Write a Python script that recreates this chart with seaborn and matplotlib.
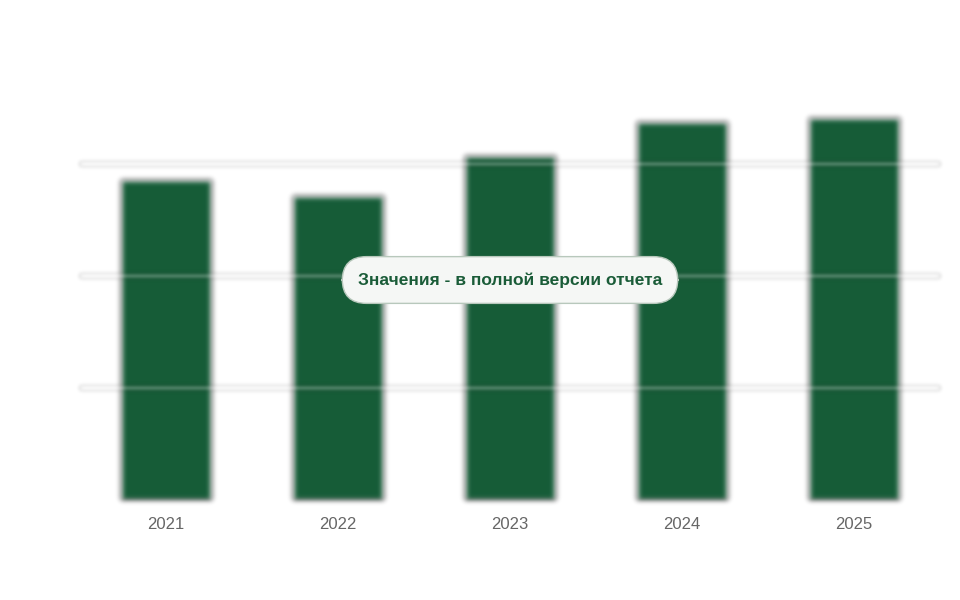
import numpy as np
import pandas as pd
import matplotlib
matplotlib.use("Agg")
import matplotlib.pyplot as plt
import seaborn as sns

years = ["2021", "2022", "2023", "2024", "2025"]
values = [320, 304, 344, 378, 382]
grid_levels = [112, 224, 336]

def blur_filter(sigma):
    def f(im, dpi):
        r = int(3 * sigma)
        x = np.arange(-r, r + 1)
        k = np.exp(-x**2 / (2 * sigma**2)); k /= k.sum()
        pad = r * 2
        a = np.pad(im, ((pad, pad), (pad, pad), (0, 0)))
        a = np.apply_along_axis(lambda m: np.convolve(m, k, mode="same"), 0, a)
        a = np.apply_along_axis(lambda m: np.convolve(m, k, mode="same"), 1, a)
        return a, -pad, -pad
    return f

sns.set_style("white")
plt.rcParams['font.family'] = ['Liberation Sans', 'DejaVu Sans']
fig = plt.figure(figsize=(9.6, 6), dpi=100)
ax = fig.add_axes([80/960, 100/600, 860/960, 460/600])
df = pd.DataFrame({"year": years, "value": values})
sns.barplot(data=df, x="year", y="value", color="#165c38", saturation=1, width=0.523, ax=ax)
for p in ax.patches:
    p.set_agg_filter(blur_filter(2.5))
for g in grid_levels:
    ln = ax.axhline(g, color="white", alpha=0.35, lw=3, zorder=5)
    ln.set_agg_filter(blur_filter(2))
ax.set_xlim(-0.5, 4.5)
ax.set_ylim(0, 460)
ax.set_yticks([])
ax.set_xlabel(""); ax.set_ylabel("")
sns.despine(ax=ax, left=True, bottom=True)
ax.tick_params(axis="x", length=0, pad=12, labelsize=12, labelcolor="#666666")
fig.text(510/960, 1 - 280/600, "Значения - в полной версии отчета", ha="center", va="center",
         fontsize=12.5, fontweight="bold", color="#1a5c38",
         bbox=dict(boxstyle="round,pad=0.9,rounding_size=1.4", fc="#f5f7f5", ec="#b8c8bc", lw=1))
fig.savefig("out.png", dpi=100)
